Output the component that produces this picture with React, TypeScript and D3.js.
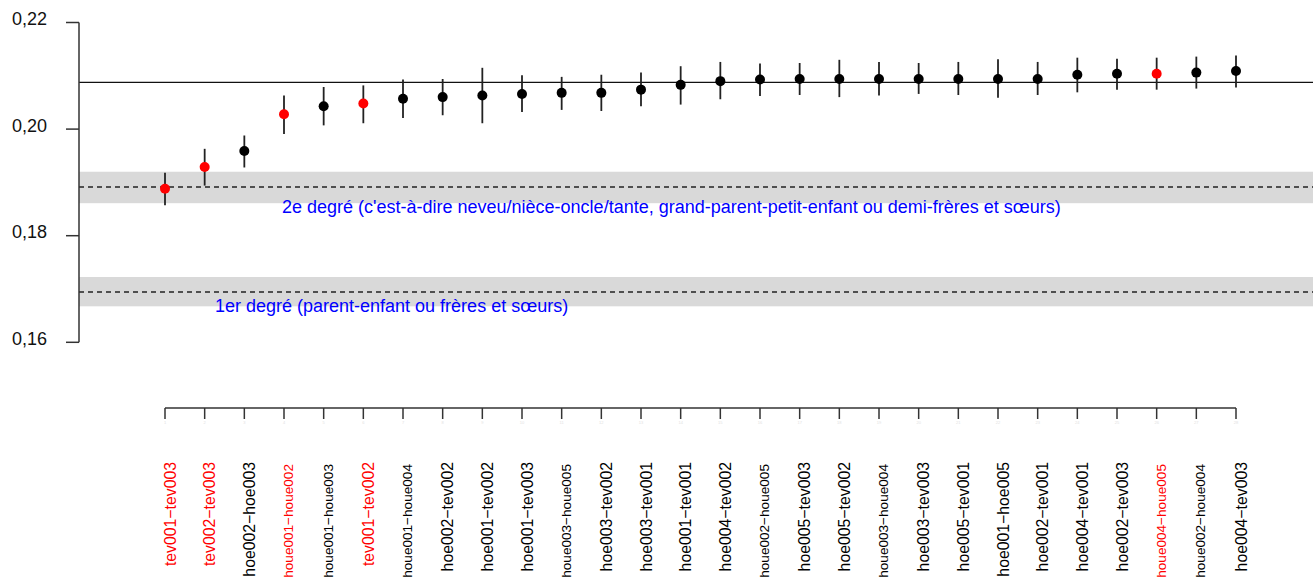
import React, { useEffect, useRef } from "react";
import * as d3 from "d3";

// pair labels, in plotted order
const pairs = [
  "tev001−tev003", "tev002−tev003", "hoe002−hoe003", "houe001−houe002",
  "houe001−houe003", "tev001−tev002", "houe001−houe004", "hoe002−tev002",
  "hoe001−tev002", "hoe001−tev003", "houe003−houe005", "hoe003−tev002",
  "hoe003−tev001", "hoe001−tev001", "hoe004−tev002", "houe002−houe005",
  "hoe005−tev003", "hoe005−tev002", "houe003−houe004", "hoe003−tev003",
  "hoe005−tev001", "hoe001−hoe005", "hoe002−tev001", "hoe004−tev001",
  "hoe002−tev003", "houe004−houe005", "houe002−houe004", "hoe004−tev003",
];

const estimate = [
  0.1888, 0.1929, 0.1959, 0.2028, 0.2043, 0.2048, 0.2057, 0.2060,
  0.2063, 0.2066, 0.2068, 0.2068, 0.2074, 0.2083, 0.2090, 0.2093,
  0.2094, 0.2094, 0.2094, 0.2094, 0.2094, 0.2094, 0.2094, 0.2102,
  0.2104, 0.2104, 0.2106, 0.2109,
];

const upper = [
  0.1918, 0.1963, 0.1988, 0.2063, 0.2079, 0.2082, 0.2093, 0.2094,
  0.2115, 0.2101, 0.2098, 0.2102, 0.2106, 0.2118, 0.2126, 0.2123,
  0.2124, 0.2130, 0.2126, 0.2124, 0.2126, 0.2131, 0.2126, 0.2134,
  0.2132, 0.2134, 0.2136, 0.2138,
];

const lower = [
  0.1857, 0.1894, 0.1928, 0.1991, 0.2007, 0.2011, 0.2021, 0.2026,
  0.2011, 0.2032, 0.2036, 0.2034, 0.2043, 0.2046, 0.2056, 0.2062,
  0.2064, 0.2060, 0.2063, 0.2066, 0.2064, 0.2059, 0.2064, 0.2069,
  0.2074, 0.2074, 0.2076, 0.2078,
];

// highlighted pairs (index, 0-based)
const highlighted = [0, 1, 3, 5, 25];

const yTicks = [0.16, 0.18, 0.2, 0.22];

const meanLine = 0.20875;

const degrees = [
  { label: "2e degré (c'est-à-dire neveu/nièce-oncle/tante, grand-parent-petit-enfant ou demi-frères et sœurs)", value: 0.18912, lo: 0.1861, hi: 0.1920, textAt: 3.95 },
  { label: "1er degré (parent-enfant ou frères et sœurs)", value: 0.16943, lo: 0.16675, hi: 0.17225, textAt: 2.26 },
];

const W = 1313;
const H = 577;
const font = "'Liberation Sans', Arial, Helvetica, sans-serif";

const App = () => {
  const svgRef = useRef<SVGSVGElement>(null);

  useEffect(() => {
    const svg = d3.select(svgRef.current);
    svg.selectAll("*").remove();

    const axisX = 79;
    const x = d3.scaleLinear().domain([1, pairs.length]).range([165, 1236]);
    const y = d3.scaleLinear().domain([0.16, 0.22]).range([342.3, 22.5]);

    // grey bands + dashed reference lines
    degrees.forEach((d) => {
      svg
        .append("rect")
        .attr("x", axisX)
        .attr("y", y(d.hi))
        .attr("width", W - axisX)
        .attr("height", y(d.lo) - y(d.hi))
        .attr("fill", "#d9d9d9");
      svg
        .append("line")
        .attr("x1", axisX)
        .attr("x2", W)
        .attr("y1", y(d.value))
        .attr("y2", y(d.value))
        .attr("stroke", "#222")
        .attr("stroke-width", 1.5)
        .attr("stroke-dasharray", "5,4");
    });

    // annotation text
    svg
      .selectAll("text.deg")
      .data(degrees)
      .join("text")
      .attr("class", "deg")
      .attr("x", (d) => x(d.textAt))
      .attr("y", (d, i) => y(d.lo) + (i === 0 ? 10 : 6))
      .attr("font-family", font)
      .attr("font-size", 18)
      .attr("fill", "#0000ff")
      .text((d) => d.label);

    // mean line
    svg
      .append("line")
      .attr("x1", axisX)
      .attr("x2", W)
      .attr("y1", y(meanLine))
      .attr("y2", y(meanLine))
      .attr("stroke", "#111")
      .attr("stroke-width", 1.3);

    // y axis
    const yAxis = svg.append("g");
    yAxis
      .append("line")
      .attr("x1", axisX)
      .attr("x2", axisX)
      .attr("y1", y(0.22))
      .attr("y2", y(0.16))
      .attr("stroke", "#333")
      .attr("stroke-width", 1.5);
    yTicks.forEach((t) => {
      yAxis
        .append("line")
        .attr("x1", axisX - 13)
        .attr("x2", axisX)
        .attr("y1", y(t))
        .attr("y2", y(t))
        .attr("stroke", "#333")
        .attr("stroke-width", 1.5);
      yAxis
        .append("text")
        .attr("x", 47)
        .attr("y", y(t) - 2)
        .attr("text-anchor", "end")
        .attr("dominant-baseline", "middle")
        .attr("font-family", font)
        .attr("font-size", 18)
        .attr("fill", "#111")
        .text(d3.format(".2f")(t).replace(".", ","));
    });

    // error bars + points
    const idx = d3.range(pairs.length);
    svg
      .selectAll("line.err")
      .data(idx)
      .join("line")
      .attr("class", "err")
      .attr("x1", (i) => x(i + 1))
      .attr("x2", (i) => x(i + 1))
      .attr("y1", (i) => y(upper[i]))
      .attr("y2", (i) => y(lower[i]))
      .attr("stroke", "#222")
      .attr("stroke-width", 1.8);
    svg
      .selectAll("circle.pt")
      .data(idx)
      .join("circle")
      .attr("class", "pt")
      .attr("cx", (i) => x(i + 1))
      .attr("cy", (i) => y(estimate[i]))
      .attr("r", 5)
      .attr("fill", (i) => (highlighted.includes(i) ? "#ff0000" : "#000"));

    // x axis
    const axisY = 408;
    const xAxis = svg.append("g");
    xAxis
      .append("line")
      .attr("x1", x(1))
      .attr("x2", x(pairs.length))
      .attr("y1", axisY)
      .attr("y2", axisY)
      .attr("stroke", "#333")
      .attr("stroke-width", 1.5);
    idx.forEach((i) => {
      const xi = x(i + 1);
      xAxis
        .append("line")
        .attr("x1", xi)
        .attr("x2", xi)
        .attr("y1", axisY)
        .attr("y2", axisY + 11)
        .attr("stroke", "#333")
        .attr("stroke-width", 1.5);
      xAxis
        .append("text")
        .attr("x", xi)
        .attr("y", axisY + 16)
        .attr("text-anchor", "middle")
        .attr("font-family", font)
        .attr("font-size", 4)
        .attr("fill", "#e2e2e2")
        .text(i + 1);
      const isHoue = pairs[i].startsWith("houe");
      xAxis
        .append("text")
        .attr("transform", `translate(${xi + (isHoue ? 9 : 10.5)},${isHoue ? 464 : 462}) rotate(-90)`)
        .attr("text-anchor", "end")
        .attr("font-family", font)
        .attr("font-size", isHoue ? 13.6 : 15.8)
        .attr("fill", highlighted.includes(i) ? "#ff0000" : "#000")
        .text(pairs[i]);
    });
  }, []);

  return (
    <svg
      ref={svgRef}
      width={W}
      height={H}
      viewBox={`0 0 ${W} ${H}`}
      style={{ position: "absolute", left: 0, top: 0, background: "#fff" }}
    ></svg>
  );
};

export default App;
